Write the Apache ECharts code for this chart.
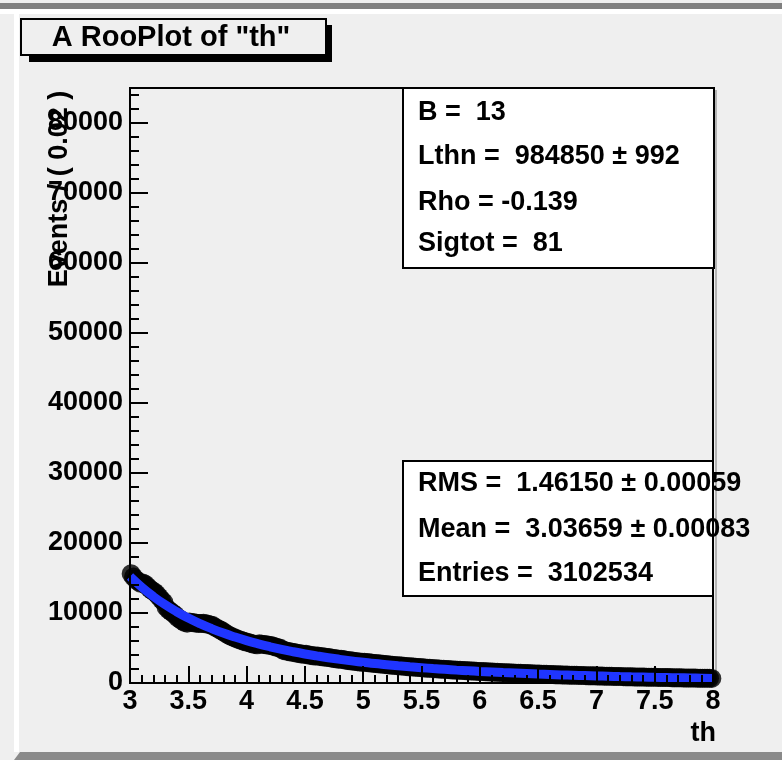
<!DOCTYPE html>
<html>
<head>
<meta charset="utf-8">
<script src="https://cdn.jsdelivr.net/npm/echarts@6/dist/echarts.min.js"></script>
<style>
  html, body { margin: 0; padding: 0; background: #efefef; }
  #chart { width: 782px; height: 760px; }
</style>
</head>
<body>
<div id="chart"></div>
<script>
// Histogram binning of "th": 250 bins of width 0.02 from 3 to 8
const binLow = 3;
const binWidth = 0.02;

// Events per bin
const eventCounts = [
  15600, 15150, 14800, 14500, 14250, 14300, 14100, 13800, 13450, 13200, 13000, 12700, 12300, 11900, 11550, 10800, 10450, 10200, 9950, 9700, 9300, 9100, 8850, 8650, 8550,
  8700, 8650, 8600, 8550, 8500, 8500, 8550, 8450, 8400, 8300, 8200, 7950, 7800, 7600, 7450, 7200, 7000, 6800, 6650, 6500, 6350, 6200, 6100, 6000, 5900,
  5800, 5700, 5600, 5500, 5450, 5600, 5550, 5500, 5450, 5400, 5350, 5250, 5150, 5050, 4950, 4700, 4600, 4550, 4450, 4400, 4350, 4250, 4200, 4150, 4100,
  4100, 4000, 3950, 3900, 3850, 3850, 3800, 3750, 3700, 3650, 3650, 3550, 3500, 3450, 3400, 3400, 3350, 3250, 3200, 3180, 3150, 3080, 3050, 3000, 2950,
  2950, 2920, 2880, 2840, 2800, 2770, 2740, 2700, 2680, 2630, 2610, 2570, 2540, 2500, 2480, 2450, 2420, 2390, 2350, 2330, 2310, 2280, 2250, 2230, 2200,
  2170, 2150, 2120, 2100, 2080, 2050, 2030, 2010, 1980, 1960, 1940, 1920, 1900, 1870, 1850, 1830, 1810, 1790, 1780, 1760, 1740, 1720, 1700, 1680, 1660,
  1650, 1630, 1610, 1590, 1580, 1560, 1540, 1530, 1510, 1500, 1480, 1470, 1450, 1440, 1420, 1410, 1390, 1380, 1370, 1350, 1340, 1330, 1310, 1300, 1290,
  1270, 1260, 1250, 1240, 1230, 1210, 1200, 1190, 1180, 1170, 1160, 1150, 1130, 1120, 1110, 1100, 1090, 1080, 1070, 1060, 1050, 1040, 1030, 1020, 1020,
  1010, 1000, 990, 980, 970, 960, 950, 940, 940, 930, 920, 910, 900, 890, 890, 880, 870, 860, 860, 850, 840, 830, 830, 820, 810,
  810, 800, 790, 790, 780, 770, 770, 760, 750, 750, 740, 740, 730, 720, 720, 710, 710, 700, 690, 690, 680, 680, 670, 670, 660
];

// Fitted PDF, sampled every 0.1 from 3 to 8
const pdfLow = 3;
const pdfStep = 0.1;
const pdfCurve = [
  15200, 13690, 12360, 11200, 10180, 9280, 8480, 7770, 7130, 6570,
  6060, 5600, 5180, 4800, 4460, 4150, 3870, 3610, 3380, 3160,
  2970, 2780, 2620, 2460, 2320, 2190, 2060, 1950, 1840, 1750,
  1650, 1570, 1490, 1420, 1350, 1280, 1220, 1160, 1110, 1060,
  1010, 970, 920, 880, 850, 810, 780, 750, 720, 690, 660
];

// Axis ranges
const xRange = [3, 8];
const yRange = [0, 85000];

// Texts
const plotTitle = 'A RooPlot of "th"';
const xTitle = 'th';
const yTitle = 'Events / ( 0.02 )';
const fitParams = ['B =  13', 'Lthn =  984850 ± 992', 'Rho = -0.139', 'Sigtot =  81'];
const histStats = ['RMS =  1.46150 ± 0.00059', 'Mean =  3.03659 ± 0.00083', 'Entries =  3102534'];

const FONT = '"Liberation Sans", Arial, Helvetica, sans-serif';
const boldText = (size) => 'bold ' + size + 'px ' + FONT;

const dataPoints = eventCounts.map((v, i) => [binLow + binWidth * (i + 0.5), v]);
const curvePoints = pdfCurve.map((v, i) => [pdfLow + pdfStep * i, v]);

const chart = echarts.init(document.getElementById('chart'), null, { renderer: 'canvas' });

function textEl(text, x, y, size, align, extra) {
  return Object.assign({
    type: 'text', x: x, y: y, z: 20,
    style: { text: text, font: boldText(size), fill: '#000', align: align || 'left', verticalAlign: 'middle' }
  }, extra || {});
}

const graphics = [
  // window border
  { type: 'rect', shape: { x: 0, y: 3, width: 782, height: 6 }, style: { fill: '#808080' }, z: 1 },
  { type: 'rect', shape: { x: 0, y: 9, width: 782, height: 5 }, style: { fill: '#ffffff' }, z: 1 },
  { type: 'rect', shape: { x: 14, y: 14, width: 5, height: 738 }, style: { fill: '#ffffff' }, z: 1 },
  { type: 'polygon', shape: { points: [[14, 760], [20, 752], [782, 752], [782, 760]] }, style: { fill: '#8a8a8a' }, z: 1 },
  // frame shadow on the right
  { type: 'line', shape: { x1: 716, y1: 90, x2: 716, y2: 684 }, style: { stroke: '#b4b4b4', lineWidth: 2 }, z: 1 },
  // title box with shadow
  { type: 'rect', shape: { x: 29, y: 25, width: 303, height: 37 }, style: { fill: '#000' }, z: 15 },
  { type: 'rect', shape: { x: 21, y: 19, width: 305, height: 36 }, style: { fill: '#efefef', stroke: '#000', lineWidth: 2 }, z: 16 },
  textEl(plotTitle, 171, 38, 29, 'center'),
  // fit parameter box
  { type: 'rect', shape: { x: 403, y: 88, width: 311, height: 180 }, style: { fill: '#ffffff', stroke: '#000', lineWidth: 2 }, z: 15 },
  // statistics box
  { type: 'rect', shape: { x: 403, y: 461, width: 310, height: 135 }, style: { fill: '#ffffff', stroke: '#000', lineWidth: 2 }, z: 15 },
  // axis titles
  textEl(yTitle, 60, 189, 27, 'center', { rotation: Math.PI / 2 }),
  textEl(xTitle, 716, 734, 27, 'right')
];
const paramY = [113, 157, 203, 244];
fitParams.forEach((t, i) => graphics.push(textEl(t, 418, paramY[i], 27, 'left')));
const statY = [484, 530, 574];
histStats.forEach((t, i) => graphics.push(textEl(t, 418, statY[i], 27, 'left')));

const axisLabelStyle = { color: '#000', fontFamily: FONT, fontWeight: 'bold', fontSize: 27 };

chart.setOption({
  animation: false,
  backgroundColor: '#efefef',
  grid: {
    left: 130, top: 88, right: 69, bottom: 77,
    show: true, borderColor: '#000', borderWidth: 2, backgroundColor: 'transparent'
  },
  xAxis: {
    type: 'value', min: xRange[0], max: xRange[1], interval: 0.5, z: 4,
    axisLine: { show: true, onZero: false, lineStyle: { color: '#000', width: 2 } },
    axisTick: { show: true, inside: true, length: 17, lineStyle: { color: '#000', width: 2 } },
    minorTick: { show: true, splitNumber: 5, length: 8, lineStyle: { color: '#000', width: 2 } },
    splitLine: { show: false },
    axisLabel: Object.assign({ margin: 5, showMinLabel: true, showMaxLabel: true }, axisLabelStyle)
  },
  yAxis: [
    {
      type: 'value', min: yRange[0], max: yRange[1], interval: 10000, position: 'left', z: 4,
      axisLine: { show: true, onZero: false, lineStyle: { color: '#000', width: 2 } },
      axisTick: { show: true, inside: true, length: 18, lineStyle: { color: '#000', width: 2 } },
      splitLine: { show: false },
      axisLabel: Object.assign({
        margin: 7, showMaxLabel: false,
        formatter: (v) => (v % 10000 === 0 ? String(v) : '')
      }, axisLabelStyle)
    },
    {
      type: 'value', min: yRange[0], max: yRange[1], interval: 2000, position: 'left', z: 4,
      axisLine: { show: false },
      axisTick: { show: true, inside: true, length: 9, lineStyle: { color: '#000', width: 2 } },
      splitLine: { show: false },
      axisLabel: { show: false }
    }
  ],
  graphic: graphics,
  series: [
    {
      name: 'data', type: 'scatter', data: dataPoints, yAxisIndex: 0,
      symbol: 'circle', symbolSize: 19, clip: false, z: 2,
      itemStyle: { color: '#000' }
    },
    {
      name: 'pdf', type: 'line', data: curvePoints, yAxisIndex: 0,
      smooth: true, showSymbol: false, clip: false, z: 3,
      lineStyle: { color: '#1f35ff', width: 9 }
    }
  ]
});
</script>
</body>
</html>
